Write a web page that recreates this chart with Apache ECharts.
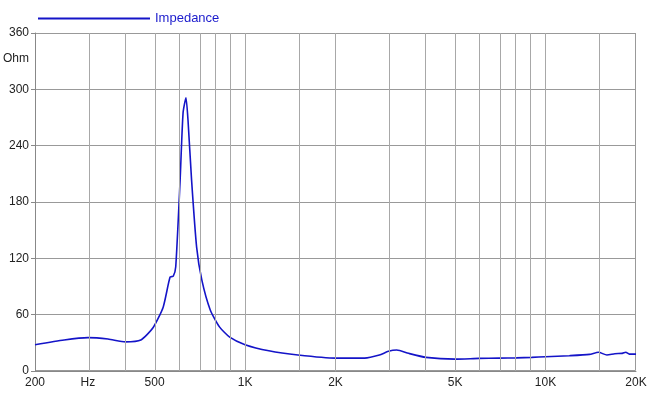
<!DOCTYPE html>
<html><head><meta charset="utf-8">
<script src="https://cdn.jsdelivr.net/npm/echarts@6/dist/echarts.min.js"></script>
<style>html,body{margin:0;padding:0;background:#fff}#c{width:650px;height:402px}</style>
</head><body><div id="c"></div>
<script>
const freqs = [200,250,300,350,400,450,494,534,563,577,588,608,622,636,646,664,690,718,766,822,889,1000,1200,1500,2000,2500,2800,3000,3200,3500,4000,5000,6000,7000,8000,9000,10000,12000,14000,15000,16000,17000,18000,18500,19000,20000];
const impedance = [28,33,35.5,34,31,33,46,68,100,101,111,203,275,291,267,203,132,97,65,47,36,28,21.5,17,13.7,13.7,17,21,22.4,18.8,14.5,12.6,13.4,13.7,14,14.5,15.2,16.3,17.7,20,17,18.4,18.8,20,18,18];
const gridFreqs = [300,400,500,600,700,800,900,1000,1500,2000,3000,4000,5000,6000,7000,8000,9000,10000,15000];
const tickFreqs = [200,300,500,1000,2000,5000,10000,20000];
const tickLabels = ['200','Hz','500','1K','2K','5K','10K','20K'];
const yTicks = [0,60,120,180,240,300,360];

const L = Math.log10;
const chart = echarts.init(document.getElementById('c'));
const font = {fontFamily:'Liberation Sans, Arial, sans-serif', fontSize:12, color:'#222'};
chart.setOption({
  animation:false,
  grid:{left:35,right:14,top:33,bottom:31},
  legend:{left:33,top:7,itemWidth:112,itemHeight:2,icon:'rect',itemGap:4,
    textStyle:{fontFamily:'Liberation Sans, Arial, sans-serif',fontSize:13,color:'#1a1acc'}},
  xAxis:{type:'value',min:L(200),max:L(20000),
    axisLine:{show:true,lineStyle:{color:'#888'}},axisTick:{show:false},splitLine:{show:false},
    axisLabel:Object.assign({customValues:tickFreqs.map(L),margin:6,
      formatter:v=>{const i=tickFreqs.findIndex(f=>Math.abs(L(f)-v)<1e-6);return i>=0?tickLabels[i]:'';}},font)},
  yAxis:{type:'value',min:0,max:360,interval:60,
    axisLine:{show:true,lineStyle:{color:'#888'}},axisTick:{show:true,length:4,lineStyle:{color:'#888'}},
    splitLine:{show:true,lineStyle:{color:'#999',width:1}},
    axisLabel:Object.assign({margin:6},font)},
  graphic:[{type:'text',left:3,top:53,style:{text:'Ohm',font:'12px Liberation Sans, Arial, sans-serif',fill:'#222'}},
    {type:'rect',shape:{x:35.5,y:33.5,width:600,height:337},style:{fill:'none',stroke:'#999',lineWidth:1},silent:true}],
  series:[{name:'Impedance',type:'line',showSymbol:false,smooth:0.2,
    lineStyle:{color:'#1414c8',width:1.6},itemStyle:{color:'#1414c8'},
    data:freqs.map((f,i)=>[L(f),impedance[i]]),
    markLine:{silent:true,symbol:'none',label:{show:false},
      lineStyle:{color:'#a8a8a8',type:'solid',width:1},
      data:gridFreqs.map(f=>({xAxis:L(f)}))}}]
});
</script></body></html>
